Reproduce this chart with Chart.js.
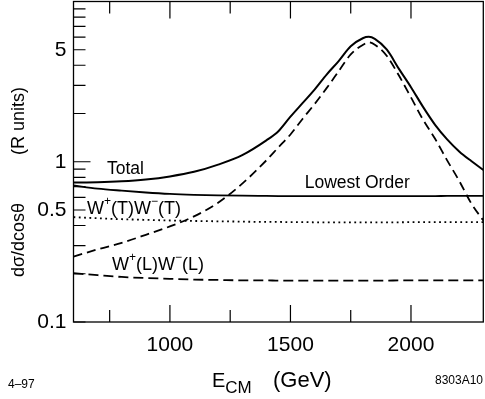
<!DOCTYPE html>
<html>
<head>
<meta charset="utf-8">
<script src="https://cdn.jsdelivr.net/npm/chart.js@4/dist/chart.umd.min.js"></script>
<style>
  body { margin: 0; background: #fff; }
  canvas { display: block; }
</style>
</head>
<body>
<canvas id="wwChart" width="485" height="399"></canvas>
<script>
// E_CM grid (GeV) the curves were read at
const energies = [600, 700, 800, 900, 1000, 1100, 1200, 1300, 1400, 1450, 1500, 1550, 1600, 1650,
  1700, 1750, 1800, 1825, 1850, 1900, 1950, 2000, 2050, 2100, 2150, 2200, 2250, 2300];

const total = [0.742, 0.745, 0.755, 0.775, 0.81, 0.865, 0.96, 1.1, 1.36, 1.55, 1.91, 2.32, 2.82, 3.5,
  4.25, 5.25, 5.9, 6.02, 5.85, 5.0, 3.8, 2.92, 2.2, 1.7, 1.38, 1.16, 1.01, 0.89];
const lowestOrder = [0.711, 0.68, 0.66, 0.643, 0.63, 0.622, 0.617, 0.614, 0.612, 0.611, 0.61, 0.61, 0.61, 0.61,
  0.61, 0.61, 0.61, 0.61, 0.61, 0.61, 0.61, 0.61, 0.611, 0.611, 0.612, 0.612, 0.613, 0.613];
const resonance = [0.256, 0.284, 0.312, 0.35, 0.395, 0.456, 0.555, 0.73, 1.02, 1.23, 1.48, 1.85, 2.29, 2.88,
  3.67, 4.68, 5.36, 5.57, 5.38, 4.57, 3.45, 2.52, 1.83, 1.39, 1.02, 0.76, 0.55, 0.43];
const transverse = [0.451, 0.444, 0.438, 0.434, 0.43, 0.427, 0.425, 0.423, 0.421, 0.421, 0.42, 0.42, 0.419, 0.419,
  0.419, 0.419, 0.419, 0.419, 0.419, 0.419, 0.419, 0.42, 0.42, 0.42, 0.42, 0.42, 0.42, 0.42];
const longitudinal = [0.2015, 0.196, 0.191, 0.188, 0.186, 0.184, 0.183, 0.182, 0.182, 0.181, 0.181, 0.181, 0.181, 0.181,
  0.181, 0.181, 0.181, 0.181, 0.181, 0.181, 0.182, 0.182, 0.182, 0.182, 0.182, 0.182, 0.182, 0.182];

const xTickVals = [750, 1000, 1250, 1500, 1750, 2000];
const xLabels = [1000, 1500, 2000];
const yTickVals = [0.1, 0.2, 0.3, 0.4, 0.5, 0.6, 0.7, 0.8, 0.9, 1, 2, 3, 4, 5, 6, 7, 8, 9, 10];
const yLabels = [0.1, 0.5, 1, 5];

const FONT = "'Liberation Sans', Arial, Helvetica, sans-serif";

function pts(vals) {
  return energies.map((e, i) => ({ x: e, y: vals[i] }));
}

function line(vals, width, dash) {
  return {
    data: pts(vals),
    borderColor: '#000',
    borderWidth: width,
    borderDash: dash || [],
    pointRadius: 0,
    fill: false,
    cubicInterpolationMode: 'monotone'
  };
}

// text with raised +/- pieces
function richText(ctx, x, y, parts) {
  parts.forEach(([t, sup]) => {
    ctx.font = sup ? '12px ' + FONT : '18px ' + FONT;
    ctx.fillText(t, x, sup ? y - 9 : y);
    x += ctx.measureText(t).width;
  });
}

const decor = {
  id: 'decor',
  afterDraw(chart) {
    const { ctx, chartArea: a, scales: { x, y } } = chart;
    ctx.save();
    ctx.strokeStyle = '#000';
    ctx.lineWidth = 1.3;
    ctx.strokeRect(a.left, a.top, a.right - a.left, a.bottom - a.top);

    ctx.lineWidth = 1.2;
    ctx.beginPath();
    xTickVals.forEach(v => {
      const px = x.getPixelForValue(v);
      const len = xLabels.includes(v) ? 17 : 12;
      ctx.moveTo(px, a.bottom); ctx.lineTo(px, a.bottom - len);
      ctx.moveTo(px, a.top); ctx.lineTo(px, a.top + len);
    });
    yTickVals.forEach(v => {
      const py = y.getPixelForValue(v);
      const len = (v === 1) ? 17 : 12;
      ctx.moveTo(a.left, py); ctx.lineTo(a.left + len, py);
    });
    ctx.stroke();

    ctx.fillStyle = '#000';
    ctx.textAlign = 'left';
    ctx.textBaseline = 'alphabetic';

    // curve labels
    ctx.font = '17.5px ' + FONT;
    ctx.fillText('Total', x.getPixelForValue(739), y.getPixelForValue(0.839));
    ctx.fillText('Lowest Order', x.getPixelForValue(1559), y.getPixelForValue(0.686));
    richText(ctx, x.getPixelForValue(656), y.getPixelForValue(0.472),
      [['W'], ['+', 1], ['(T)W'], ['\u2212', 1], ['(T)']]);
    richText(ctx, x.getPixelForValue(760), y.getPixelForValue(0.211),
      [['W'], ['+', 1], ['(L)W'], ['\u2212', 1], ['(L)']]);

    // x title with subscript
    let tx = 212;
    ctx.font = '20px ' + FONT;
    ctx.fillText('E', tx, 387);
    tx += ctx.measureText('E').width;
    ctx.font = '17px ' + FONT;
    ctx.fillText('CM', tx, 393);
    ctx.font = '22px ' + FONT;
    ctx.fillText('(GeV)', 273, 387);

    // y title
    ctx.save();
    ctx.translate(19, 0);
    ctx.rotate(-Math.PI / 2);
    ctx.font = '18px ' + FONT;
    ctx.textAlign = 'center';
    ctx.textBaseline = 'middle';
    ctx.fillText('d\u03c3/dcos\u03b8', -240, 0);
    ctx.fillText('(R units)', -121, 0);
    ctx.restore();

    // corner marks
    ctx.font = '12px ' + FONT;
    ctx.fillText('4\u201397', 8, 388);
    ctx.textAlign = 'right';
    ctx.fillText('8303A10', 483, 384);
    ctx.restore();
  }
};

new Chart(document.getElementById('wwChart'), {
  type: 'line',
  data: {
    datasets: [
      line(total, 2),
      line(lowestOrder, 1.8),
      line(resonance, 1.8, [9, 5]),
      line(transverse, 1.8, [1.8, 3.5]),
      line(longitudinal, 1.8, [10, 5])
    ]
  },
  options: {
    responsive: false,
    animation: false,
    layout: { padding: { top: 1.5, right: 1.7, left: 0, bottom: 0 } },
    plugins: { legend: { display: false }, tooltip: { enabled: false } },
    scales: {
      x: {
        type: 'linear',
        min: 600,
        max: 2300,
        afterBuildTicks: s => { s.ticks = xTickVals.map(v => ({ value: v })); },
        afterFit: s => { s.height = 77; s.paddingLeft = 0; s.paddingRight = 0; },
        grid: { display: false, drawTicks: false },
        border: { display: false },
        ticks: {
          autoSkip: false,
          maxRotation: 0,
          padding: 11,
          color: '#000',
          font: { family: FONT, size: 21 },
          callback: v => xLabels.includes(v) ? String(v) : ''
        }
      },
      y: {
        type: 'logarithmic',
        min: 0.1,
        max: 10,
        afterBuildTicks: s => { s.ticks = yTickVals.map(v => ({ value: v })); },
        afterFit: s => { s.width = 73.5; s.paddingTop = 0; s.paddingBottom = 0; },
        grid: { display: false, drawTicks: false },
        border: { display: false },
        ticks: {
          autoSkip: false,
          padding: 7,
          color: '#000',
          font: { family: FONT, size: 21 },
          callback: v => yLabels.includes(v) ? String(v) : ''
        }
      }
    }
  },
  plugins: [decor]
});
</script>
</body>
</html>
